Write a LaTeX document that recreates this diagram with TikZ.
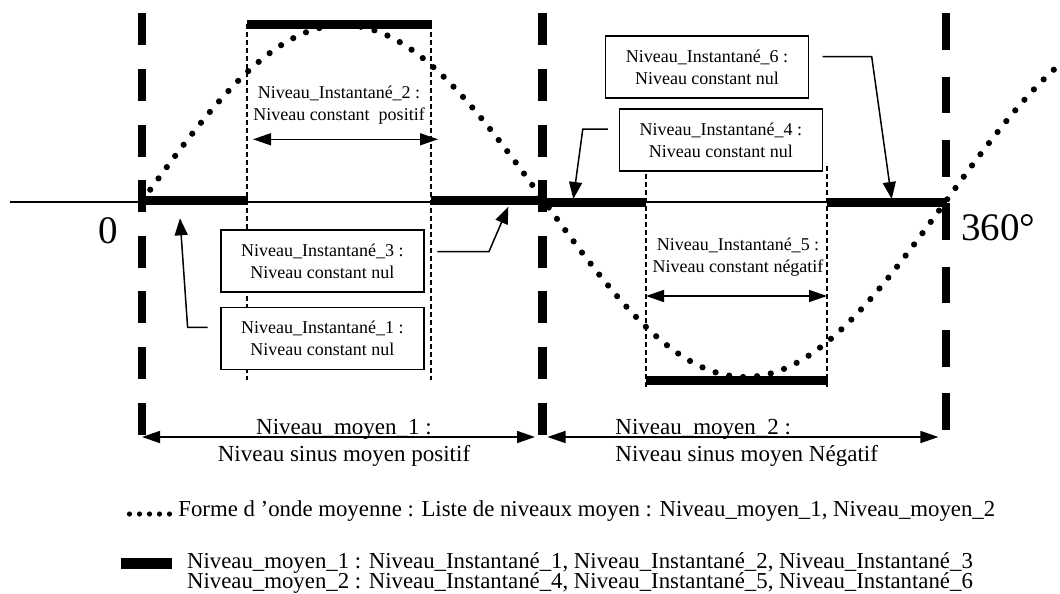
\documentclass[tikz,border=0pt]{standalone}
\usepackage{fontspec}
\setmainfont{Liberation Serif}
\usetikzlibrary{arrows.meta}

\begin{document}
\begin{tikzpicture}[x=0.5pt,y=-0.5pt]
	\tikzstyle{niveau}=[line width=4.5pt]
	\tikzstyle{borne}=[line width=4.3pt,dash pattern=on 16pt off 11.8pt]
	\tikzstyle{borneb}=[line width=4.3pt,dash pattern=on 18.35pt off 13.3pt]
	\tikzstyle{limite}=[line width=0.6pt,dash pattern=on 2.5pt off 1.5pt]
	\tikzstyle{onde}=[line width=3.1pt,line cap=round,dash pattern=on 0pt off 7pt]
	\tikzstyle{cadre}=[draw,line width=0.8pt,fill=white,minimum width=101.5pt,minimum height=31pt,inner sep=0pt,align=center,font=\fontsize{9}{11}\selectfont]
	\tikzstyle{fleche}=[line width=0.75pt,-{Triangle[length=8.5pt,width=6.5pt]}]
	\tikzstyle{plage}=[line width=0.75pt,{Triangle[length=9pt,width=6pt]}-{Triangle[length=9pt,width=6pt]}]
	\tikzstyle{petit}=[align=center,inner sep=0pt,font=\fontsize{9}{11}\selectfont]
	\tikzstyle{grand}=[inner sep=0pt,font=\fontsize{11.5}{13.4}\selectfont]
	\tikzstyle{legende}=[anchor=base west,inner sep=0pt,font=\fontsize{11.4}{13}\selectfont]
	\tikzstyle{angle}=[inner sep=0pt,font=\fontsize{19.5}{20}\selectfont]
	\useasboundingbox (0,0) rectangle (1060,594);

	% axe et bornes
	\draw[line width=0.7pt] (10,202) -- (946,202);
	\draw[borne] (142,13.3) -- (142,435);
	\draw[borne] (542.5,13.3) -- (542.5,440);
	\draw[borneb] (946,13.3) -- (946,430);
	\draw[limite] (247,24) -- (247,380);
	\draw[limite] (431,24) -- (431,380);
	\draw[limite] (646,166) -- (646,387);
	\draw[limite] (827,166) -- (827,387);

	% forme d'onde
	\draw[onde] plot[domain=0:412,samples=160] ({142+2.2333*\x},{201-176*sin(\x)});

	% niveaux instantanes
	\draw[niveau] (142,200) -- (248,200);
	\draw[niveau] (247,24) -- (432,24);
	\draw[niveau] (431,200) -- (543,200);
	\draw[niveau] (542,202.5) -- (646,202.5);
	\draw[niveau] (646,380) -- (828,380);
	\draw[niveau] (827,202.5) -- (947,202.5);

	\coordinate (p1) at (180,218.3);
	\coordinate (p3) at (508.3,206.7);
	\coordinate (p4) at (573.3,199);
	\coordinate (p6) at (891.7,199);

	\node[cadre] (n3) at (322.3,261.2) {Niveau\_Instantané\_3 :\\Niveau constant nul};
	\node[cadre] (n1) at (322.3,338.5) {Niveau\_Instantané\_1 :\\Niveau constant nul};
	\node[cadre] (n6) at (707,67.2) {Niveau\_Instantané\_6 :\\Niveau constant nul};
	\node[cadre] (n4) at (720.8,140) {Niveau\_Instantané\_4 :\\Niveau constant nul};

	\draw[fleche] ([xshift=-6.2pt,yshift=5.6pt]n1.west) -- ++(-20,0) -- (p1);
	\draw[fleche] ([xshift=6.35pt,yshift=4.75pt]n3.east) -- ++(51.6,0) -- (p3);
	\draw[fleche] ([xshift=-5.35pt,yshift=5.5pt]n4.west) -- ++(-25,0) -- (p4);
	\draw[fleche] ([xshift=6.7pt,yshift=5.25pt]n6.east) -- ++(49,0) -- (p6);

	% plages
	\coordinate (a2) at (253,139.3);
	\coordinate (b2) at (438,139.3);
	\coordinate (a5) at (646,296);
	\coordinate (b5) at (827,296);
	\coordinate (a0) at (142,437);
	\coordinate (a180) at (535,437);
	\coordinate (b180) at (547.5,437);
	\coordinate (b360) at (938.4,437);
	\draw[plage] (a2) -- (b2);
	\draw[plage] (a5) -- (b5);
	\draw[plage] (a0) -- (a180);
	\draw[plage] (b180) -- (b360);

	\node[petit] (t2) at (339,105) {Niveau\_Instantané\_2 :\\Niveau constant~ positif};
	\node[petit] (t5) at (738,257) {Niveau\_Instantané\_5 :\\Niveau constant négatif};

	\node[grand,align=center,anchor=north] (m1) at (344,419.3) {Niveau\_moyen\_1 :\\Niveau sinus moyen positif};
	\node[grand,align=left,anchor=north west] (m2) at (615,419.3) {Niveau\_moyen\_2 :\\Niveau sinus moyen Négatif};

	\node[angle] (zero) at (108,231) {0};
	\node[angle,anchor=west] (tour) at (961,228) {360°};

	% legende
	\draw[onde,line width=2.6pt,dash pattern=on 0pt off 5pt] (129.5,514) -- (170,514);
	\fill (120.7,558.3) rectangle (171.7,569.3);
	\node[legende] (l1) at (178,516.7) {Forme d 'onde moyenne : Liste de niveaux moyen : Niveau\_moyen\_1, Niveau\_moyen\_2};
	\node[legende] (l2) at (186.7,568) {Niveau\_moyen\_1 : Niveau\_Instantané\_1, Niveau\_Instantané\_2, Niveau\_Instantané\_3};
	\node[legende] (l3) at (186.7,588) {Niveau\_moyen\_2 : Niveau\_Instantané\_4, Niveau\_Instantané\_5, Niveau\_Instantané\_6};
\end{tikzpicture}
\end{document}
